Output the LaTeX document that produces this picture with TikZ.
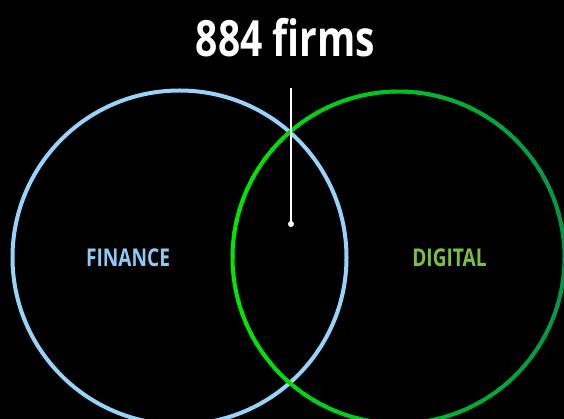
\documentclass[tikz,border=0pt]{standalone}
\usepackage{fontspec}
\usetikzlibrary{positioning}
\newfontfamily\vennfont{Open Sans}[FakeStretch=0.78]

\definecolor{finblue}{RGB}{150,212,252}
\definecolor{finlabel}{RGB}{140,204,244}
\definecolor{diglabel}{RGB}{122,193,66}
\definecolor{digbright}{RGB}{0,232,0}
\definecolor{digdark}{RGB}{0,152,72}

\begin{document}
\begin{tikzpicture}[x=1pt, y=-1pt,
		ring/.style={circle, line width=4pt, minimum size=334pt, inner sep=0pt},
		setlabel/.style={font=\vennfont\bfseries\fontsize{24.5}{26}\selectfont, anchor=base},
		pin/.style={white, line width=1.3pt}
		]
		
		% background and page size
		\fill[black] (0,0) rectangle (564,419);
		\useasboundingbox (0,0) rectangle (564,419);
		
		\node[ring, draw=finblue] (fin) at (179.5,257.5) {};
		\node[ring] (dig) at (398.5,257.5) {};
		
		% green ring, shaded left to right
		\foreach \a in {0,4,...,356}{
			\pgfmathtruncatemacro\p{50*(1+cos(\a+2))}
			\draw[line width=4pt, digdark!\p!digbright] (dig.center) ++(\a:166) arc[start angle=\a, end angle=\a+5, radius=166];
		}
		
		%labels
		\node[setlabel, text=finlabel] (finlbl) at (128,267) {FINANCE};
		\node[setlabel, text=diglabel] (diglbl) at (449.5,267) {DIGITAL};
		
		% overlap count
		\node[font=\vennfont\bfseries\fontsize{50}{54}\selectfont, text=white, anchor=base] (count) at (285.5,57) {884 firms};
		\coordinate (pintop) at (291,88);
		\node[circle, fill=white, inner sep=0pt, minimum size=6pt] (pindot) at (291,224) {};
		\draw[pin] (pintop) -- (pindot.center);
	\end{tikzpicture}
\end{document}
